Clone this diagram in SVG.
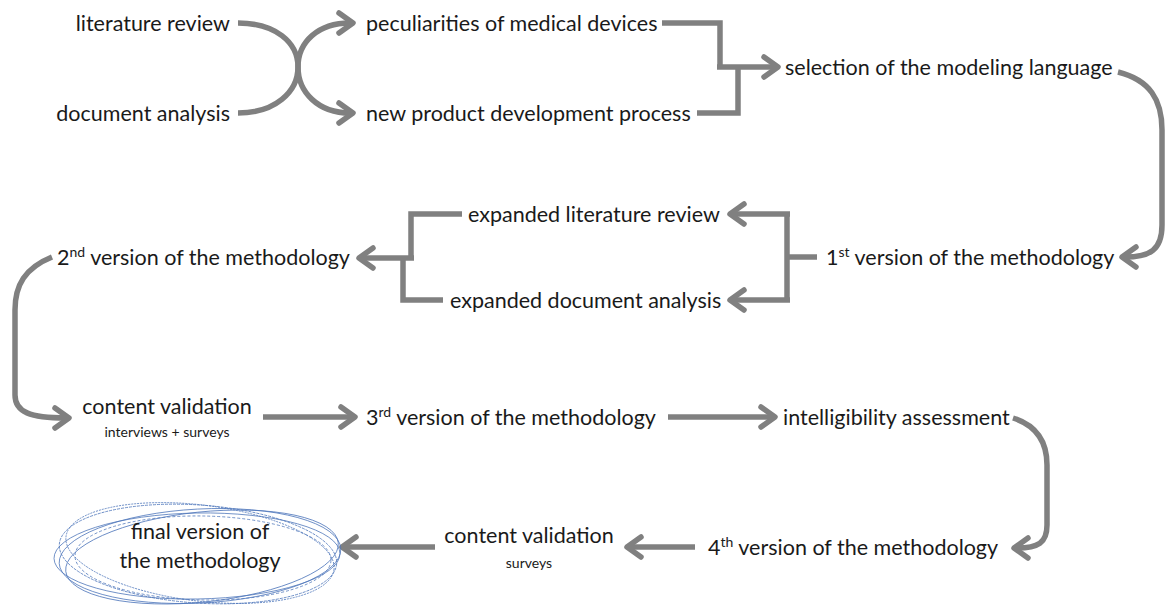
<svg xmlns="http://www.w3.org/2000/svg" width="1166" height="610" viewBox="0 0 1166 610">
<defs>
<marker id="arr" markerUnits="userSpaceOnUse" markerWidth="40" markerHeight="40" viewBox="-20 -20 40 40" refX="0" refY="0" orient="auto">
<path d="M-11,-10 L3,0 L-11,10" fill="none" stroke="#808080" stroke-width="5.5" stroke-linecap="round" stroke-linejoin="round"/>
</marker>
<style>
.t{font-family:Lato,"Liberation Sans",sans-serif;font-size:21.5px;fill:#1a1a1a}
.s{font-family:Lato,"Liberation Sans",sans-serif;font-size:14px;fill:#1a1a1a}
.c{fill:none;stroke:#808080;stroke-width:5.5;stroke-linejoin:miter}
.a{marker-end:url(#arr)}
.e{fill:none;stroke:#4f77bb;stroke-width:0.8}
.sup{font-size:14px}
</style>
</defs>
<rect width="1166" height="610" fill="#ffffff"/>
<g id="connectors">
<path class="c a" d="M238,23 C275,23 298,42 298,67 C298,92 318,113 350,113"/>
<path class="c a" d="M238,113 C275,113 298,92 298,67 C298,42 318,23 350,23"/>
<path class="c" d="M662,23 H720 V67"/>
<path class="c" d="M697,113 H738 V67"/>
<path class="c a" d="M717,67 H775"/>
<path class="c a" d="M1118,72 C1150,80 1162,100 1162,130 V225 C1162,250 1150,257 1125,257"/>
<path class="c" d="M817,257 H787"/>
<path class="c" d="M787,214 V300"/>
<path class="c a" d="M790,214 H733"/>
<path class="c a" d="M790,300 H733"/>
<path class="c" d="M462,214 H411 V258"/>
<path class="c" d="M443,300 H403 V258"/>
<path class="c a" d="M414,258 H362"/>
<path class="c a" d="M52,257 C25,268 15,285 15,310 V395 C15,412 30,418 66,418"/>
<path class="c a" d="M263,417 H352"/>
<path class="c a" d="M668,417 H772"/>
<path class="c a" d="M1013,418 C1035,425 1047,440 1047,465 V525 C1047,543 1038,548 1017,548"/>
<path class="c a" d="M695,547 H630"/>
<path class="c a" d="M435,547 H345"/>
</g>
<g id="n-lit"><text class="t" x="230" y="31" text-anchor="end">literature review</text></g>
<g id="n-doc"><text class="t" x="230" y="121" text-anchor="end">document analysis</text></g>
<g id="n-pec"><text class="t" x="366" y="31">peculiarities of medical devices</text></g>
<g id="n-npd"><text class="t" x="366" y="121">new product development process</text></g>
<g id="n-sel"><text class="t" x="785" y="75">selection of the modeling language</text></g>
<g id="n-v1"><text class="t" x="826" y="265">1<tspan class="sup" dy="-8">st</tspan><tspan dy="8"> version of the methodology</tspan></text></g>
<g id="n-elr"><text class="t" x="468" y="222">expanded literature review</text></g>
<g id="n-eda"><text class="t" x="450" y="308">expanded document analysis</text></g>
<g id="n-v2"><text class="t" x="57" y="265">2<tspan class="sup" dy="-8">nd</tspan><tspan dy="8"> version of the methodology</tspan></text></g>
<g id="n-cv1"><text class="t" x="167" y="414" text-anchor="middle">content validation</text><text class="s" x="167" y="437" text-anchor="middle">interviews + surveys</text></g>
<g id="n-v3"><text class="t" x="366" y="425">3<tspan class="sup" dy="-8">rd</tspan><tspan dy="8"> version of the methodology</tspan></text></g>
<g id="n-int"><text class="t" x="783" y="425">intelligibility assessment</text></g>
<g id="n-v4"><text class="t" x="708" y="555">4<tspan class="sup" dy="-8">th</tspan><tspan dy="8"> version of the methodology</tspan></text></g>
<g id="n-cv2"><text class="t" x="529" y="543" text-anchor="middle">content validation</text><text class="s" x="529" y="568" text-anchor="middle">surveys</text></g>
<g id="n-final">
<ellipse class="e" cx="200" cy="556" rx="141" ry="47" transform="rotate(-3 200 556)"/>
<ellipse class="e" cx="198" cy="554" rx="139" ry="49" transform="rotate(4 198 554)" stroke-dasharray="3 1"/>
<ellipse class="e" cx="202" cy="557" rx="137" ry="45" transform="rotate(-6 202 557)" stroke="#6f8fc8"/>
<ellipse class="e" cx="200" cy="553" rx="135" ry="48" transform="rotate(7 200 553)" stroke-dasharray="2 1"/>
<ellipse class="e" cx="203" cy="558" rx="128" ry="42" transform="rotate(1 203 558)" stroke="#a88fb0" stroke-dasharray="3 2"/>
<ellipse class="e" cx="197" cy="556" rx="143" ry="43" transform="rotate(-1 197 556)" stroke="#5a80c4"/>
<text class="t" x="200" y="539" text-anchor="middle">final version of</text>
<text class="t" x="200" y="568" text-anchor="middle">the methodology</text>
</g>
</svg>
